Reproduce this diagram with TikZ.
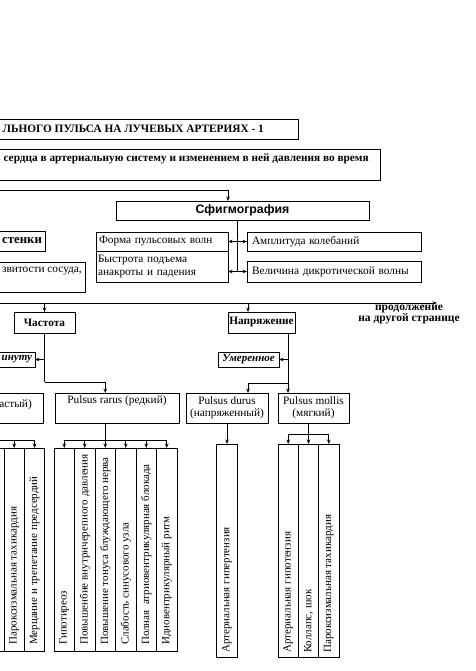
\documentclass[tikz,border=0pt]{standalone}
\usepackage{fontspec}
\setmainfont{Liberation Serif}
\newfontfamily\sfbold{Liberation Sans}
\usetikzlibrary{arrows.meta}
\begin{document}
\begin{tikzpicture}[x=1pt,y=-1pt,
  box/.style={draw, line width=0.7pt, inner sep=0pt, outer sep=0pt, font=\fontsize{11.3}{13}\selectfont},
  bbox/.style={box, font=\fontsize{11.3}{13}\selectfont\bfseries},
  ibox/.style={box, font=\fontsize{11}{13}\selectfont\bfseries\itshape},
  txt/.style={inner sep=0pt, font=\fontsize{11.3}{13}\selectfont},
  btxt/.style={inner sep=0pt, font=\fontsize{11.3}{13}\selectfont\bfseries},
  cell/.style={draw, line width=0.7pt, inner sep=0pt, outer sep=0pt, minimum width=20.4pt},
  ctxt/.style={inner sep=0pt, rotate=90, anchor=west, font=\fontsize{11}{13}\selectfont},
  conn/.style={line width=0.7pt},
  arr/.style={conn, -{Stealth[length=4.5pt,width=3.5pt]}},
  darr/.style={conn, {Stealth[length=4.5pt,width=3.5pt]}-{Stealth[length=4.5pt,width=3.5pt]}}]
\fill[white] (0,0) rectangle (475,671);
\useasboundingbox (0,0) rectangle (475,671);
\clip (0,0) rectangle (475,671);

% header boxes
\node[box, minimum width=318, minimum height=20] (titlebox) at (139,129) {};
\node[btxt, anchor=base east] (title) at (264,133) {ЛЬНОГО ПУЛЬСА НА ЛУЧЕВЫХ АРТЕРИЯХ - 1};
\node[box, minimum width=400, minimum height=31] (subbox) at (180,164.5) {};
\node[btxt, anchor=base east] (sub) at (369,162) {в сердца в артериальную систему и изменением в ней давления во время};

% sphygmography
\node[box, minimum width=253, minimum height=19, font=\sfbold\bfseries\fontsize{12.3}{14}\selectfont] (sfig) at (242.5,210.5) {Сфигмография};
\coordinate (w1) at (-5,190);
\coordinate (sa) at ([xshift=-14.5pt]sfig.north);
\draw[arr] (w1) -| (sa);

\node[box, minimum width=132, minimum height=19, text width=126, align=left] (forma) at (162,241.5) {Форма пульсовых волн};
\node[box, minimum width=132, minimum height=31, text width=128, align=left] (bystr) at (162,266.5) {Быстрота подъема\\анакроты и падения};
\node[box, minimum width=174, minimum height=19, text width=164, align=left] (ampl) at (334,241.5) {Амплитуда колебаний};
\node[box, minimum width=174, minimum height=21, text width=164, align=left] (velich) at (334,271.5) {Величина дикротической волны};
\coordinate (vj) at (237,271.5);
\draw[conn] (sfig.south -| vj) -- (vj);
\draw[darr] (forma.east) -- (ampl.west);
\draw[darr] (bystr.east |- velich.west) -- (velich.west);

% left partial boxes
\node[box, minimum width=65, minimum height=20, text width=59, align=right, font=\fontsize{12.8}{14}\selectfont\bfseries] (stenki) at (12.5,241) {стенки};
\node[box, minimum width=105, minimum height=30] (izvit) at (32.5,277) {};
\node[txt, anchor=base east] (izvitt) at (82,272) {звитости сосуда,};

% main line
\coordinate (m1) at (-5,303);
\coordinate (m2) at (437,303);
\draw[arr] (m1) -- (m2);
\node[inner sep=0pt, align=center, font=\fontsize{11.5}{10.5}\selectfont\bfseries] (cont) at (409,314.5) {продолжение\\на другой странице};

\node[bbox, minimum width=61, minimum height=21] (chast) at (44.5,322.5) {Частота};
\node[bbox, minimum width=67, minimum height=21] (napr) at (261.5,322.5) {Напряжение};
\draw[arr] (m1 -| chast.north) -- (chast.north);
\coordinate (na) at ([xshift=-13.5pt]napr.north);
\draw[arr] (m1 -| na) -- (na);

\node[ibox, minimum width=55, minimum height=15, text width=49, align=right] (minutu) at (7.5,359.5) {инуту};
\node[ibox, minimum width=61, minimum height=15] (umer) at (248.5,359.5) {Умеренное};

% second level boxes
\node[box, minimum width=63, minimum height=30] (chastyi) at (11.5,408) {};
\node[txt, anchor=base east] (chastyit) at (32,407) {астый)};
\node[box, minimum width=124, minimum height=30, align=center] (rarus) at (117,408) {Pulsus rarus (редкий)\\\strut};
\node[box, minimum width=82, minimum height=30, align=center, font=\fontsize{11.3}{12.5}\selectfont] (durus) at (227,408) {Pulsus durus\\(напряженный)};
\node[box, minimum width=71, minimum height=30, align=center, font=\fontsize{11.3}{12.5}\selectfont] (mollis) at (313.5,408) {Pulsus mollis\\(мягкий)};

% frequency branch
\coordinate (cj) at (44.5,382);
\coordinate (ra) at ([xshift=-11.75pt]rarus.north);
\draw[conn] (chast.south) -- (cj);
\draw[arr] (cj) -| (ra);
\draw[arr] (chast.south |- minutu.east) -- (minutu.east);

% tension branch
\coordinate (nb) at ([xshift=26.5pt]napr.south);
\coordinate (nj) at (288,383);
\coordinate (da) at ([xshift=21pt]durus.north);
\draw[conn] (nb) -- (nj);
\draw[arr] (nb |- umer.east) -- (umer.east);
\draw[arr] (nj) -- (nj |- mollis.north);
\draw[arr] (nj) -| (da);

% left cells (frequent)
\node[cell, minimum height=203] (l0) at (-6.2,549.5) {};
\node[cell, minimum height=203] (l1) at (14.2,549.5) {};
\node[cell, minimum height=203] (l2) at (34.6,549.5) {};
\node[ctxt] (l1t) at ([yshift=6pt]l1.south) {Пароксизмальная тахикардия};
\node[ctxt] (l2t) at ([yshift=6pt]l2.south) {Мерцание и трепетание предсердий};
\coordinate (lj) at (-5,440);
\draw[conn] (lj) -- (l2.north |- lj);
\draw[arr] (l1.north |- lj) -- (l1.north);
\draw[arr] (l2.north |- lj) -- (l2.north);

% rarus cells
\node[cell, minimum height=203] (r1) at (64.25,549.5) {};
\node[cell, minimum height=203] (r2) at (84.75,549.5) {};
\node[cell, minimum height=203] (r3) at (105.25,549.5) {};
\node[cell, minimum height=203] (r4) at (125.75,549.5) {};
\node[cell, minimum height=203] (r5) at (146.25,549.5) {};
\node[cell, minimum height=203] (r6) at (166.75,549.5) {};
\node[ctxt] (r1t) at ([yshift=6pt]r1.south) {Гипотиреоз};
\node[ctxt] (r2t) at ([yshift=6pt]r2.south) {Повышенбие внутричерепного давления};
\node[ctxt] (r3t) at ([yshift=6pt]r3.south) {Повышение тонуса блуждающего нерва};
\node[ctxt] (r4t) at ([yshift=6pt]r4.south) {Слабость синусового узла};
\node[ctxt] (r5t) at ([yshift=6pt]r5.south) {Полная\ \ атриовентрикулярная блокада};
\node[ctxt] (r6t) at ([yshift=6pt]r6.south) {Идиовентрикулярный ритм};
\coordinate (rj) at (105.25,440);
\draw[conn] (rj |- rarus.south) -- (rj);
\draw[conn] (r1.north |- rj) -- (r6.north |- rj);
\foreach \c in {r1,r2,r3,r4,r5,r6} \draw[arr] (\c.north |- rj) -- (\c.north);

% durus cell
\node[cell, minimum height=213] (d1) at (227,550.5) {};
\node[ctxt] (d1t) at ([yshift=4pt]d1.south) {Артериальная гипертензия};
\draw[arr] (durus.south) -- (d1.north);

% mollis cells
\node[cell, minimum height=213, minimum width=20.33pt] (s1) at (288.2,550.5) {};
\node[cell, minimum height=213, minimum width=20.33pt] (s2) at (308.5,550.5) {};
\node[cell, minimum height=213, minimum width=20.33pt] (s3) at (328.8,550.5) {};
\node[ctxt] (s1t) at ([yshift=4pt]s1.south) {Артериальная гипотензия};
\node[ctxt] (s2t) at ([yshift=4pt]s2.south) {Коллапс, шок};
\node[ctxt] (s3t) at ([yshift=4pt]s3.south) {Пароксизмальная тахикардия};
\coordinate (sj) at (308.5,434);
\draw[conn] (sj |- mollis.south) -- (sj);
\draw[conn] (s1.north |- sj) -- (s3.north |- sj);
\foreach \c in {s1,s2,s3} \draw[arr] (\c.north |- sj) -- (\c.north);
\end{tikzpicture}
\end{document}
